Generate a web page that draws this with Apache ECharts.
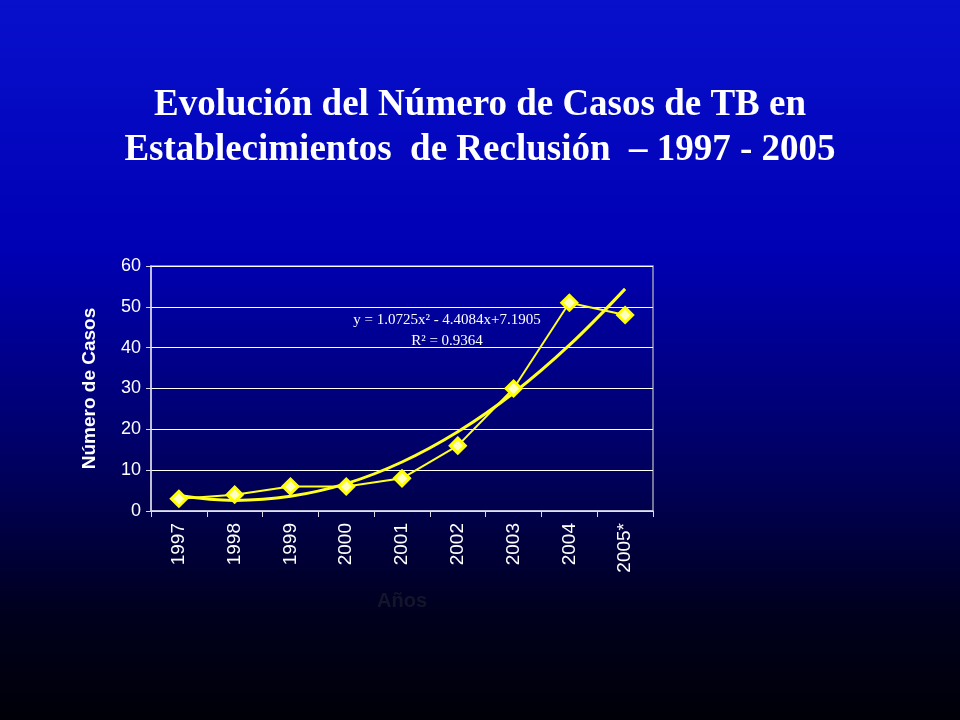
<!DOCTYPE html>
<html>
<head>
<meta charset="utf-8">
<script src="https://cdn.jsdelivr.net/npm/echarts@6/dist/echarts.min.js"></script>
<style>
html,body{margin:0;padding:0;width:960px;height:720px;overflow:hidden;}
#c{width:960px;height:720px;}
</style>
</head>
<body>
<div id="c"></div>
<script>
const categories = ['1997','1998','1999','2000','2001','2002','2003','2004','2005*'];
const casos = [3, 4, 6, 6, 8, 16, 30, 51, 48];
const tendencia = [3.8, 2.6, 3.6, 6.7, 12.0, 19.4, 28.9, 40.6, 54.4];
const yTicks = [0, 10, 20, 30, 40, 50, 60];
const titleLines = ['Evolución del Número de Casos de TB en', 'Establecimientos  de Reclusión  – 1997 - 2005'];
const equation = 'y = 1.0725x² - 4.4084x+7.1905';
const r2 = 'R² = 0.9364';

const serif = '"Liberation Serif", "Times New Roman", serif';
const sans = 'Arial, "Liberation Sans", sans-serif';

const chart = echarts.init(document.getElementById('c'));
chart.setOption({
  backgroundColor: {
    type: 'linear', x: 0, y: 0, x2: 0, y2: 1,
    colorStops: [
      {offset: 0, color: '#0810cc'},
      {offset: 0.35, color: '#0000b4'},
      {offset: 0.62, color: '#000068'},
      {offset: 0.85, color: '#00001e'},
      {offset: 1, color: '#000008'}
    ]
  },
  animation: false,
  grid: {left: 151, top: 266, width: 502, height: 245, containLabel: false,
    show: true, borderColor: '#9a9ab0', borderWidth: 1.5, backgroundColor: 'transparent'},
  xAxis: {
    type: 'category',
    data: categories,
    boundaryGap: true,
    name: 'Años',
    nameLocation: 'middle',
    nameGap: 80,
    nameTextStyle: {color: '#14142a', fontFamily: sans, fontWeight: 'bold', fontSize: 20},
    axisLine: {lineStyle: {color: '#d8d8e8', width: 1.5}},
    axisTick: {show: true, length: 6, lineStyle: {color: '#d8d8e8'}},
    axisLabel: {rotate: 90, color: '#ffffff', fontFamily: sans, fontSize: 19, margin: 12},
    splitLine: {show: false}
  },
  yAxis: {
    type: 'value',
    min: yTicks[0],
    max: yTicks[yTicks.length - 1],
    interval: 10,
    name: 'Número de Casos',
    nameLocation: 'middle',
    nameGap: 52,
    nameRotate: 90,
    nameTextStyle: {color: '#ffffff', fontFamily: sans, fontWeight: 'bold', fontSize: 19},
    axisLine: {show: true, lineStyle: {color: '#d8d8e8', width: 1.5}},
    axisTick: {show: true, length: 5, lineStyle: {color: '#d8d8e8'}},
    axisLabel: {color: '#ffffff', fontFamily: sans, fontSize: 18, margin: 10},
    splitLine: {show: true, lineStyle: {color: '#ffffff', width: 1}}
  },
  series: [
    {
      type: 'line',
      data: tendencia,
      smooth: 0.4,
      symbol: 'none',
      lineStyle: {color: '#ffff22', width: 3},
      z: 2
    },
    {
      type: 'line',
      data: casos,
      symbol: 'diamond',
      symbolSize: 15,
      lineStyle: {color: '#ffff22', width: 2},
      itemStyle: {color: '#ffffc0', borderColor: '#ffff00', borderWidth: 3},
      z: 3
    }
  ],
  graphic: [
    {type: 'text', x: 480, y: 105, style: {text: titleLines[0], fill: '#ffffff', align: 'center', verticalAlign: 'middle',
      font: 'bold 37px ' + serif}},
    {type: 'text', x: 480, y: 150, style: {text: titleLines[1], fill: '#ffffff', align: 'center', verticalAlign: 'middle',
      font: 'bold 37px ' + serif}},
    {type: 'text', x: 447, y: 320, style: {text: equation, fill: '#ffffff', align: 'center', verticalAlign: 'middle', font: '15px ' + serif}},
    {type: 'text', x: 447, y: 341, style: {text: r2, fill: '#ffffff', align: 'center', verticalAlign: 'middle', font: '15px ' + serif}}
  ]
});
</script>
</body>
</html>
